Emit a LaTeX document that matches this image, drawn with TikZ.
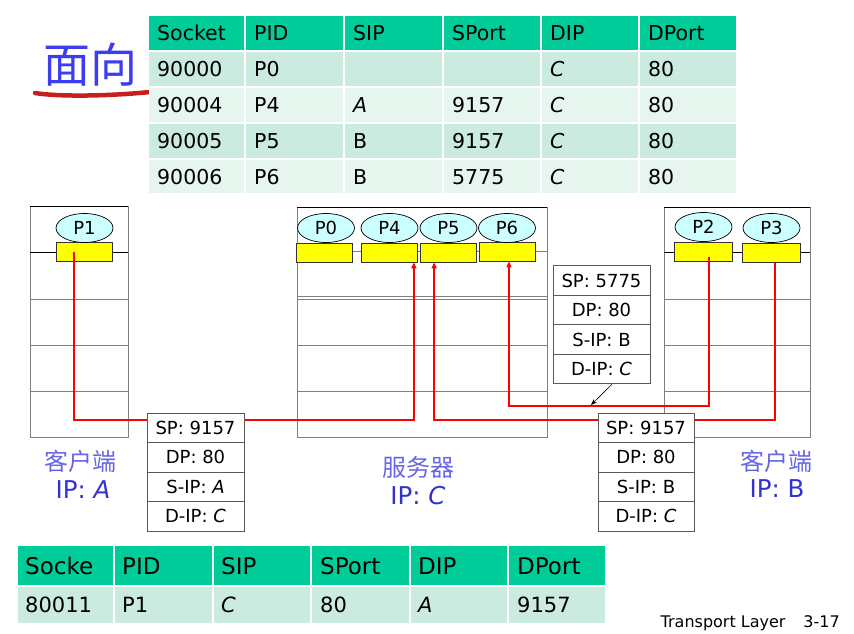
\documentclass[tikz,border=0pt]{standalone}
\usepackage{fontspec}
\setmainfont{DejaVu Sans}
\newfontfamily\cjk{Noto Sans CJK SC}
\usetikzlibrary{arrows.meta,shapes.geometric,calc}
\definecolor{hdr}{RGB}{0,204,153}
\definecolor{rowa}{RGB}{204,235,224}
\definecolor{rowb}{RGB}{231,245,239}
\definecolor{procfill}{RGB}{204,255,255}
\definecolor{sockfill}{RGB}{255,255,0}
\definecolor{framegray}{RGB}{128,128,128}
\definecolor{lblblue}{RGB}{102,102,230}
\definecolor{ipblue}{RGB}{51,51,204}
\definecolor{titleblue}{RGB}{60,60,240}
\definecolor{brushred}{RGB}{200,30,30}
\definecolor{pktgray}{RGB}{90,90,90}
\begin{document}
\begin{tikzpicture}[x=1pt,y=-1pt,
  proc/.style={ellipse, draw=black, line width=0.7pt, fill=procfill, minimum width=57pt, minimum height=29pt, inner sep=0pt, font=\fontsize{18}{20}\selectfont},
  sock/.style={rectangle, draw=black!80, line width=0.7pt, fill=sockfill, minimum width=56pt, minimum height=19pt, inner sep=0pt},
  pkt/.style={rectangle, draw=pktgray, line width=0.9pt, fill=white, minimum width=97pt, minimum height=29.5pt, inner sep=0pt, font=\fontsize{18}{20}\selectfont},
  flow/.style={draw=red, line width=2pt, -{Triangle[length=6pt,width=5pt]}},
  hostline/.style={draw=framegray, line width=0.9pt},
  socklevel/.style={draw=black, line width=0.8pt},
  cell/.style={anchor=base west, inner sep=0pt},
  cjklbl/.style={anchor=base, inner sep=0pt, text=lblblue, font=\cjk\fontsize{24}{26}\selectfont},
  iplbl/.style={anchor=center, inner sep=0pt, text=ipblue, font=\fontsize{24.5}{26}\selectfont},
]
\useasboundingbox (0,0) rectangle (854,633);

% ---- title (the rest is hidden by the table) ----
\node[anchor=base west, inner sep=0pt, text=titleblue, font=\cjk\fontsize{47}{50}\selectfont] (title) at (43,82) {面向};
\draw[brushred, line width=4.5pt, line cap=round] (35,93) .. controls (60,97) and (110,96) .. (150,92);

% ---- top table ----
\foreach \xa/\xb in {148/245,245/344,344/443,443/541,541/639,639/737}{
  \foreach \ya/\yb/\col in {15/51/hdr,51/87/rowa,87/123/rowb,123/159/rowa,159/194/rowb}{
    \fill[\col] (\xa+1,\ya+1) rectangle (\xb-1,\yb-1);
  }
}
\foreach \r/\y/\ta/\tb/\tc/\td/\te/\tf in {
  0/40/Socket/PID/SIP/SPort/DIP/DPort,
  1/76.5/90000/P0/{}/{}/\textit{C}/80,
  2/112.5/90004/P4/\textit{A}/9157/\textit{C}/80,
  3/148.5/90005/P5/B/9157/\textit{C}/80,
  4/184/90006/P6/B/5775/\textit{C}/80}{
  \node[cell, font=\fontsize{20.5}{22}\selectfont] (T\r-1) at (157,\y) {\ta};
  \node[cell, font=\fontsize{20.5}{22}\selectfont] (T\r-2) at (254,\y) {\tb};
  \node[cell, font=\fontsize{20.5}{22}\selectfont] (T\r-3) at (353,\y) {\tc};
  \node[cell, font=\fontsize{20.5}{22}\selectfont] (T\r-4) at (452,\y) {\td};
  \node[cell, font=\fontsize{20.5}{22}\selectfont] (T\r-5) at (550,\y) {\te};
  \node[cell, font=\fontsize{20.5}{22}\selectfont] (T\r-6) at (648,\y) {\tf};
}

% ---- bottom table ----
\foreach \xa/\xb in {17/114,114/213,213/311,311/410,410/508,508/606}{
  \fill[hdr] (\xa+1,546) rectangle (\xb-1,585);
  \fill[rowa] (\xa+1,587) rectangle (\xb-1,623);
}
\foreach \r/\y/\fs/\ta/\tb/\tc/\td/\te/\tf in {
  0/574/23/Socke/PID/SIP/SPort/DIP/DPort,
  1/612/21/80011/P1/\textit{C}/80/\textit{A}/9157}{
  \node[cell, font=\fontsize{\fs}{24}\selectfont] (B\r-1) at (25,\y) {\ta};
  \node[cell, font=\fontsize{\fs}{24}\selectfont] (B\r-2) at (122,\y) {\tb};
  \node[cell, font=\fontsize{\fs}{24}\selectfont] (B\r-3) at (221,\y) {\tc};
  \node[cell, font=\fontsize{\fs}{24}\selectfont] (B\r-4) at (320,\y) {\td};
  \node[cell, font=\fontsize{\fs}{24}\selectfont] (B\r-5) at (418,\y) {\te};
  \node[cell, font=\fontsize{\fs}{24}\selectfont] (B\r-6) at (517,\y) {\tf};
}

% ---- host boxes ----
% client A
\draw[hostline] (30,206) rectangle (128,437);
\draw[socklevel] (30,206) -- (128,206);
\draw[socklevel] (30,252) -- (128,252);
\foreach \y in {299,345,391} \draw[hostline] (30,\y) -- (128,\y);
% server C
\draw[hostline] (297,207) rectangle (547,437);
\draw[socklevel] (297,207) -- (547,207);
\draw[hostline] (297,251) -- (547,251);
\foreach \y in {296.5,299.5,345,391} \draw[hostline] (297,\y) -- (547,\y);
% client B
\draw[hostline] (664,207) rectangle (810,437);
\draw[socklevel] (664,207) -- (810,207);
\draw[socklevel] (664,252) -- (810,252);
\foreach \y in {299,345,391} \draw[hostline] (664,\y) -- (810,\y);

% ---- processes and sockets ----
\node[sock] (s1) at (84.5,252) {};
\node[proc] (p1) at (84.5,228) {P1};
\node[sock] (s0) at (324.5,252.5) {};
\node[proc] (p0) at (326,228) {P0};
\node[sock] (s4) at (389.5,252.5) {};
\node[proc] (p4) at (389.5,228) {P4};
\node[sock] (s5) at (448.5,252.5) {};
\node[proc] (p5) at (448.5,228) {P5};
\node[sock] (s6) at (507,251.5) {};
\node[proc] (p6) at (507,228) {P6};
\node[sock, minimum width=58pt] (s2) at (703.5,251.5) {};
\node[proc] (p2) at (703.5,227) {P2};
\node[sock, minimum width=58pt] (s3) at (771,253) {};
\node[proc] (p3) at (771.5,228) {P3};

% ---- red demultiplexing paths ----
\coordinate (k1) at (74,420);
\coordinate (k3) at (775,420);
\coordinate (k2) at (709,406);
\draw[flow] (s1.center -| k1) -- (k1) -| ([xshift=-4pt]s4.south east);
\draw[flow] (s3.south -| k3) -- (k3) -| ([xshift=14pt]s5.south west);
\draw[flow] ([yshift=-5pt]s2.center -| k2) -- (k2) -| ([xshift=2pt]s6.south);

% ---- packet headers ----
\node[pkt] (pa1) at (195.5,427.75) {SP: 9157};
\node[pkt] (pa2) at (195.5,457.25) {DP: 80};
\node[pkt] (pa3) at (195.5,486.75) {S-IP: \textit{A}};
\node[pkt] (pa4) at (195.5,516.25) {D-IP: \textit{C}};

\node[pkt, minimum width=96pt] (pb1) at (646,427.75) {SP: 9157};
\node[pkt, minimum width=96pt] (pb2) at (646,457.25) {DP: 80};
\node[pkt, minimum width=96pt] (pb3) at (646,486.75) {S-IP: B};
\node[pkt, minimum width=96pt] (pb4) at (646,516.25) {D-IP: \textit{C}};

\node[pkt] (pm1) at (601.5,280.5) {SP: 5775};
\node[pkt] (pm2) at (601.5,310) {DP: 80};
\node[pkt] (pm3) at (601.5,339.5) {S-IP: B};
\node[pkt] (pm4) at (601.5,369) {D-IP: \textit{C}};

\coordinate (tipc) at (591,405);
\draw[line width=0.6pt, -{Stealth[length=6pt,width=4.5pt]}] ([xshift=10.5pt]pm4.south) -- (tipc);

% ---- host labels ----
\node[cjklbl] (lA) at (80,470) {客户端};
\node[iplbl] (ipA) at (83,490) {IP: \textit{A}};
\node[cjklbl] (lC) at (418,476) {服务器};
\node[iplbl] (ipC) at (418,496) {IP: \textit{C}};
\node[cjklbl] (lB) at (776,470) {客户端};
\node[iplbl] (ipB) at (777,489) {IP: B};

% ---- footer ----
\node[anchor=base east, inner sep=0pt, font=\fontsize{16}{18}\selectfont] (foot) at (840,627) {Transport Layer\hspace{18pt}3-17};
\end{tikzpicture}
\end{document}
